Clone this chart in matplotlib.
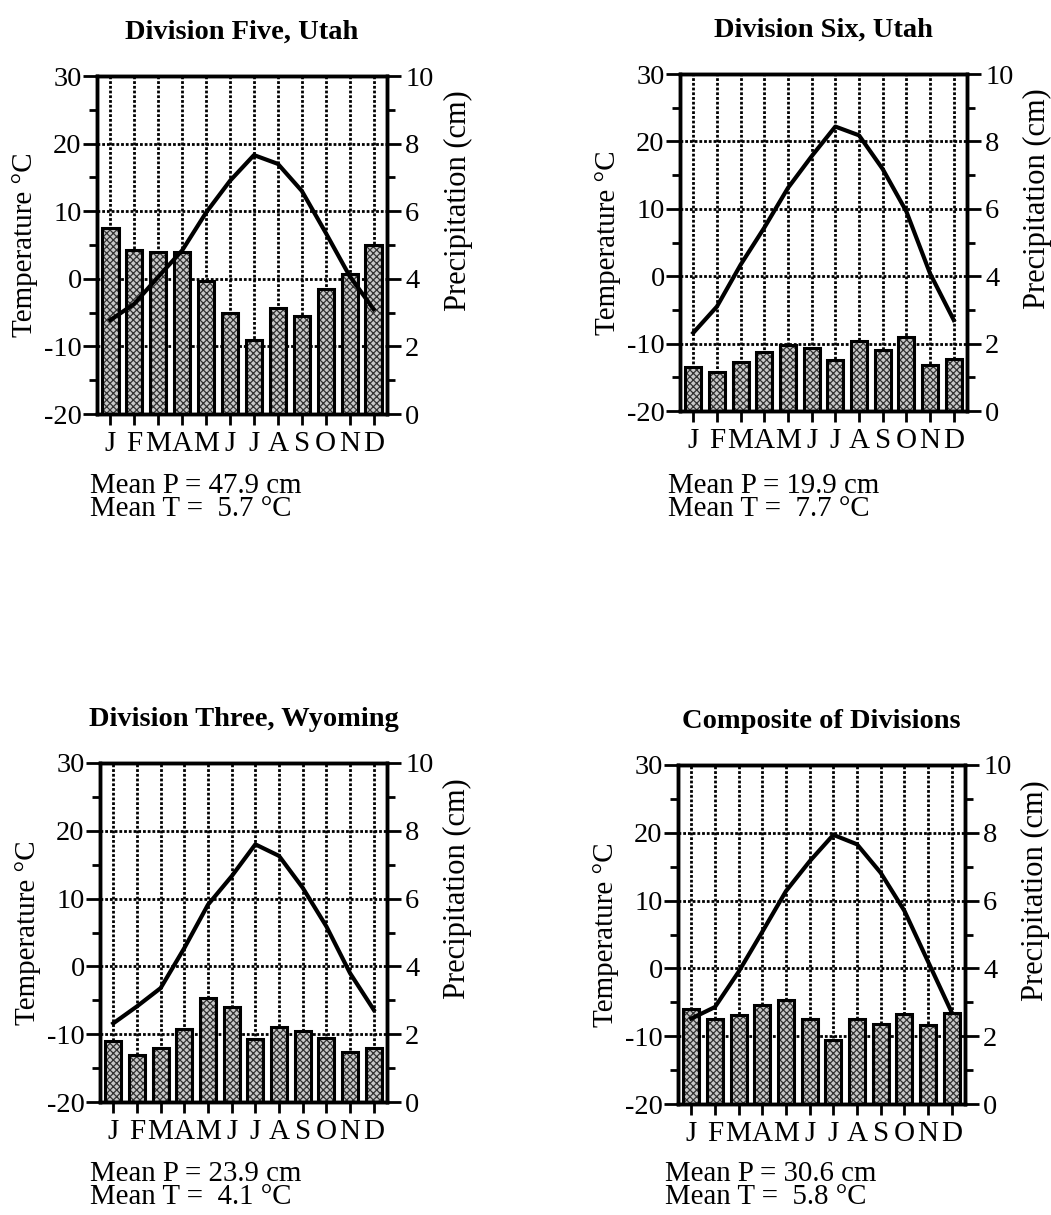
import matplotlib
matplotlib.use('Agg')
import matplotlib.pyplot as plt
import numpy as np

plt.rcParams['font.family'] = ['Liberation Serif', 'DejaVu Serif']
plt.rcParams['axes.unicode_minus'] = False
plt.rcParams['hatch.linewidth'] = 0.9

# Month labels and positions
months = ['J', 'F', 'M', 'A', 'M', 'J', 'J', 'A', 'S', 'O', 'N', 'D']
month_pos = np.arange(1, 13)

# Division Five, Utah
div5_precip = [5.5, 4.85, 4.78, 4.8, 3.94, 2.99, 2.2, 3.13, 2.91, 3.69, 4.14, 5.0]
div5_temp = [-6.1, -3.7, 0.3, 4.2, 9.8, 14.5, 18.3, 17.0, 13.0, 6.8, 0.4, -4.5]

# Division Six, Utah
div6_precip = [1.32, 1.17, 1.44, 1.74, 1.95, 1.88, 1.51, 2.08, 1.80, 2.21, 1.36, 1.55]
div6_temp = [-8.4, -4.5, 1.7, 7.2, 13.1, 17.8, 22.2, 20.9, 15.9, 9.6, 0.4, -6.5]

# Division Three, Wyoming
wy3_precip = [1.8, 1.4, 1.6, 2.16, 3.06, 2.8, 1.86, 2.2, 2.1, 1.9, 1.48, 1.6]
wy3_temp = [-8.4, -5.9, -3.2, 2.7, 9.1, 13.3, 18.0, 16.3, 11.6, 5.9, -1.0, -6.4]

# Composite of Divisions
comp_precip = [2.81, 2.52, 2.63, 2.93, 3.08, 2.5, 1.88, 2.52, 2.37, 2.66, 2.32, 2.68]
comp_temp = [-7.4, -5.7, -0.5, 5.4, 11.4, 15.8, 19.7, 18.3, 14.1, 8.5, 1.0, -6.5]

titles = ['Division Five, Utah', 'Division Six, Utah',
          'Division Three, Wyoming', 'Composite of Divisions']
mean_p = ['47.9', '19.9', '23.9', '30.6']
mean_t = ['5.7', '7.7', '4.1', '5.8']

W, H = 1051, 1215
fig = plt.figure(figsize=(W / 100, H / 100), dpi=100)

# axes boxes in pixels: left, top, right, bottom
boxes = [(97, 76, 387, 414), (680, 74, 967, 411),
         (100, 763, 387, 1102), (678, 765, 965, 1104)]
text_pos = [(90, 473), (668, 473), (90, 1161), (665, 1161)]

def draw_panel(box, precip, temp, title, mp, mt, tpos):
    l, t, r, b = box
    ax2 = fig.add_axes([l / W, 1 - b / H, (r - l) / W, (b - t) / H])
    ax = ax2.twinx()
    # temperature axis on the left, precipitation on the right
    ax.yaxis.tick_left()
    ax.yaxis.set_label_position('left')
    ax2.yaxis.tick_right()
    ax2.yaxis.set_label_position('right')
    ax.set_zorder(ax2.get_zorder() + 1)
    ax.patch.set_visible(False)

    # bars (precipitation)
    ax2.set_axisbelow(True)
    ax2.bar(month_pos, precip, width=0.68, color='#c8c8c8', edgecolor='#333333',
            hatch='xxxxx', linewidth=0, zorder=2)
    ax2.bar(month_pos, precip, width=0.68, fill=False, edgecolor='black',
            linewidth=2.2, zorder=3)
    ax2.set_ylim(0, 10)
    ax2.set_xlim(0.44, 12.56)
    ax2.set_yticks(np.arange(0, 11, 2))
    ax2.set_yticks(np.arange(1, 10, 2), minor=True)
    ax2.set_xticks(month_pos)
    ax2.set_xticklabels(months, fontsize=21)
    ax2.grid(True, color='black', linestyle=(0, (1, 0.7)), linewidth=2)
    ax2.tick_params(axis='x', direction='out', length=8, width=2, pad=4)
    ax2.tick_params(axis='y', which='major', direction='out', length=10, width=2,
                    labelsize=20.5, pad=3)
    ax2.tick_params(axis='y', which='minor', direction='out', length=6, width=2)
    ax2.set_ylabel('Precipitation (cm)', fontsize=22)
    ax2.yaxis.set_label_coords(1.195, 0.63)

    # line (temperature)
    ax.plot(month_pos, temp, color='black', linewidth=3, zorder=4)
    ax.set_ylim(-20, 30)
    ax.set_yticks(np.arange(-20, 31, 10))
    ax.set_yticks(np.arange(-15, 30, 10), minor=True)
    ax.tick_params(axis='y', which='major', direction='out', length=10, width=2,
                   labelsize=20.5, pad=1)
    ax.tick_params(axis='y', which='minor', direction='out', length=6, width=2)
    ax.set_ylabel('Temperature \u00b0C', fontsize=21)
    ax.yaxis.set_label_coords(-0.205, 0.5)
    ax.set_title(title, fontsize=20.5, fontweight='bold', pad=27)

    for a in (ax, ax2):
        for s in a.spines.values():
            s.set_linewidth(2.5)

    x0, y0 = tpos
    fig.text(x0 / W, 1 - y0 / H, f'Mean P = {mp} cm\nMean T =  {mt} \u00b0C',
             fontsize=20.8, va='top', linespacing=0.85)

data = [(div5_precip, div5_temp), (div6_precip, div6_temp),
        (wy3_precip, wy3_temp), (comp_precip, comp_temp)]
for i in range(4):
    draw_panel(boxes[i], data[i][0], data[i][1], titles[i], mean_p[i], mean_t[i], text_pos[i])

fig.savefig('out.png', dpi=100)
